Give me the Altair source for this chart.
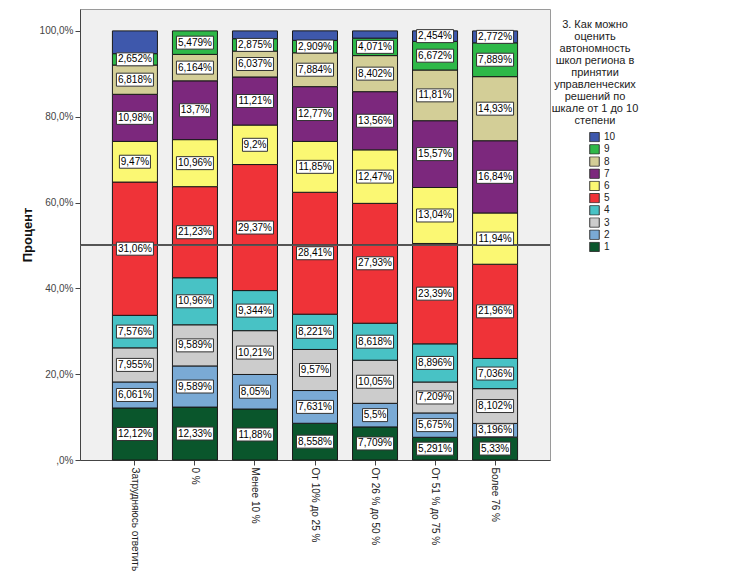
import altair as alt
import pandas as pd

categories = ["Затрудняюсь ответить", "0 %", "Менее 10 %", "От 10% до 25 %",
              "От 26 % до 50 %", "От 51 % до 75 %", "Более 76 %"]
levels = ["1", "2", "3", "4", "5", "6", "7", "8", "9", "10"]

v1 = [12.12, 12.33, 11.88, 8.558, 7.709, 5.291, 5.33]
v2 = [6.061, 9.589, 8.05, 7.631, 5.5, 5.675, 3.196]
v3 = [7.955, 9.589, 10.21, 9.57, 10.05, 7.209, 8.102]
v4 = [7.576, 10.96, 9.344, 8.221, 8.618, 8.896, 7.036]
v5 = [31.06, 21.23, 29.37, 28.41, 27.93, 23.39, 21.96]
v6 = [9.47, 10.96, 9.2, 11.85, 12.47, 13.04, 11.94]
v7 = [10.98, 13.7, 11.21, 12.77, 13.56, 15.57, 16.84]
v8 = [6.818, 6.164, 6.037, 7.884, 8.402, 11.81, 14.93]
v9 = [2.652, 5.479, 2.875, 2.909, 4.071, 6.672, 7.889]
v10 = [5.31, 0.0, 1.82, 2.2, 1.69, 2.454, 2.772]
series = [v1, v2, v3, v4, v5, v6, v7, v8, v9, v10]

# which level-10 segments carry a value label in the picture
label10 = [False, False, False, False, False, True, True]

colors = {
    "10": "#3E58AC", "9": "#2EB848", "8": "#D3CE97", "7": "#7C287D",
    "6": "#FBF873", "5": "#EF3338", "4": "#48C2C5", "3": "#CCCCCC",
    "2": "#7AAAD5", "1": "#0A562C",
}
legend_order = levels[::-1]

legend_title = ["3. Как можно", "оценить", "автономность", "школ  региона в",
                "принятии", "управленческих", "решений по", "шкале от 1 до 10",
                "степени"]

rows = []
for li, lev in enumerate(levels):
    for ci, cat in enumerate(categories):
        val = series[li][ci]
        shown = val > 0 and (lev != "10" or label10[ci])
        rows.append({"cat": cat, "level": lev, "lvl": li + 1,
                     "value": val, "shown": bool(shown)})
df = pd.DataFrame(rows)

FONT = "Liberation Sans"

# label box outlines (custom symbol paths, one per label length)
box_paths = [
    "M-0.676,-0.351L0.676,-0.351L0.676,0.351L-0.676,0.351Z",
    "M-0.838,-0.351L0.838,-0.351L0.838,0.351L-0.838,0.351Z",
    "M-1,-0.351L1,-0.351L1,0.351L-1,0.351Z",
]

base = alt.Chart(df).transform_filter("datum.value > 0").transform_stack(
    stack="value", groupby=["cat"], sort=[alt.SortField("lvl", "ascending")],
    as_=["y0", "y1"]
).transform_calculate(mid="(datum.y0 + datum.y1) / 2")

xenc = alt.X(
    "cat:N", sort=categories,
    scale=alt.Scale(paddingInner=0.25, paddingOuter=0.54),
    axis=alt.Axis(title=None, labelAngle=90, labelFontSize=10, labelColor="#222",
                  labelFont=FONT, tickSize=5, tickColor="#444", domainColor="#444",
                  labelLimit=0),
)
yscale = alt.Scale(domain=[0, 105.1], nice=False, zero=True)

bars = base.mark_bar(stroke="#1a1a1a", strokeWidth=1).encode(
    x=xenc,
    y=alt.Y("y0:Q", scale=yscale, axis=alt.Axis(
        values=[0, 20, 40, 60, 80, 100],
        labelExpr="datum.value == 0 ? ',0%' : replace(format(datum.value, '.1f'), '.', ',') + '%'",
        grid=False, tickSize=5, labelFontSize=10, labelColor="#444", labelFont=FONT,
        domainColor="#444", tickColor="#444", title="Процент", titleFontSize=13,
        titleFontWeight="bold", titleFont=FONT, titlePadding=5, titleColor="#111")),
    y2="y1:Q",
    color=alt.Color("level:N", scale=alt.Scale(domain=legend_order,
                                               range=[colors[k] for k in legend_order]),
                    legend=alt.Legend(
                        orient="none", legendX=472, legendY=10,
                        title=legend_title, titleAlign="center", titleAnchor="middle",
                        titleFontSize=11, titleFontWeight="normal", titleColor="#222",
                        titleFont=FONT, titleLineHeight=12, titlePadding=6, titleLimit=0,
                        labelFontSize=10, labelColor="#222", labelFont=FONT,
                        symbolType="square", symbolSize=90, symbolStrokeColor="#333",
                        symbolStrokeWidth=1, symbolOffset=14, rowPadding=1.2,
                        clipHeight=10.25, labelOffset=4)),
    order=alt.Order("lvl:Q", sort="ascending"),
)

rule = alt.Chart(df).mark_rule(color="#555", strokeWidth=1).encode(y=alt.datum(50))

labels = base.transform_filter("datum.shown").transform_calculate(
    label="replace(format(datum.value, '.4~r'), '.', ',') + '%'"
).transform_calculate(nchar="length(datum.label)")

boxes = labels.mark_point(filled=True, fill="white", stroke="#333", strokeWidth=1,
                          opacity=1, size=1369).encode(
    x=xenc,
    y=alt.Y("mid:Q", scale=yscale),
    shape=alt.Shape("nchar:N", scale=alt.Scale(domain=[4, 5, 6], range=box_paths),
                    legend=None),
)

texts = labels.mark_text(fontSize=10, color="#000", font=FONT).encode(
    x=xenc,
    y=alt.Y("mid:Q", scale=yscale),
    text="label:N",
)

chart = alt.layer(bars, rule, boxes, texts).properties(
    width=470, height=451,
    autosize=alt.AutoSizeParams(type="none"),
    padding={"left": 72, "top": 1, "right": 170, "bottom": 115},
).configure_view(fill="#F0F0F0", stroke="#9a9a9a", strokeWidth=1)

chart.save("out.html", embed_options={"renderer": "svg", "actions": False})
